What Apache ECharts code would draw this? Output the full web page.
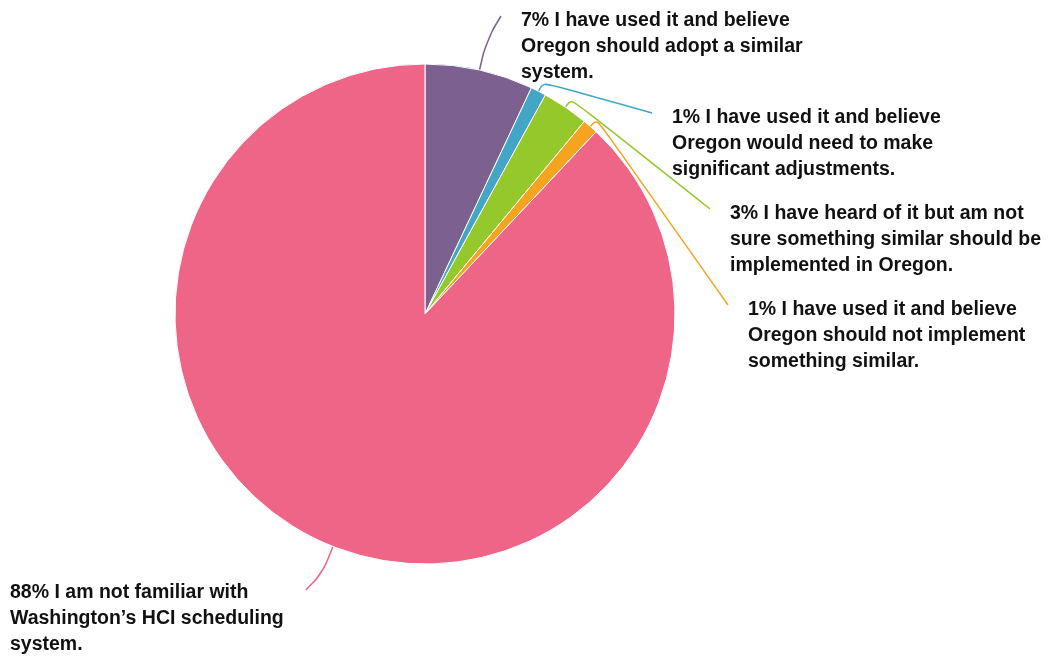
<!DOCTYPE html>
<html>
<head>
<meta charset="utf-8">
<script src="https://cdn.jsdelivr.net/npm/echarts@6/dist/echarts.min.js"></script>
<style>
html,body{margin:0;padding:0;background:#fff;}
#chart{width:1048px;height:656px;}
</style>
</head>
<body>
<div id="chart"></div>
<script>
// Data
const categories = [
  "I have used it and believe\nOregon should adopt a similar\nsystem.",
  "I have used it and believe\nOregon would need to make\nsignificant adjustments.",
  "I have heard of it but am not\nsure something similar should be\nimplemented in Oregon.",
  "I have used it and believe\nOregon should not implement\nsomething similar.",
  "I am not familiar with\nWashington\u2019s HCI scheduling\nsystem."
];
const values = [7, 1, 3, 1, 88];
const colors = ["#7B6090", "#44A6C6", "#95C82A", "#F4A41F", "#EF6587"];

// Label placement (style)
const labelPos = [[521, 8], [672, 105], [730, 201], [748, 297], [10, 580]];
const lineLen = [30, 10, 10, 10, 30];

const chart = echarts.init(document.getElementById('chart'), null, {renderer: 'canvas'});
chart.setOption({
  animation: false,
  backgroundColor: '#ffffff',
  series: [{
    type: 'pie',
    center: [425, 314],
    radius: [0, 250],
    startAngle: 90,
    clockwise: true,
    avoidLabelOverlap: false,
    itemStyle: {borderColor: '#ffffff', borderWidth: 1},
    label: {
      show: true,
      position: 'outside',
      formatter: p => p.value + '% ' + p.name,
      fontFamily: 'Liberation Sans, Arial, sans-serif',
      fontWeight: 'bold',
      fontSize: 19.5,
      lineHeight: 26,
      color: '#111111',
      align: 'left'
    },
    labelLine: {show: true, length: 10, length2: 20, smooth: 0.4, lineStyle: {width: 1.5}},
    labelLayout: function (params) {
      const i = params.dataIndex;
      const p = labelPos[i];
      const right = p[0] > 425;
      const w = params.labelRect.width;
      const end = right ? [p[0] - 20, p[1] + 8] : [p[0] + w + 22, p[1] + 10];
      const out = {x: p[0], y: p[1], align: 'left', verticalAlign: 'top', moveOverlap: null};
      const pts = params.labelLinePoints;
      if (pts && pts.length >= 2) {
        out.labelLinePoints = [[pts[0][0], pts[0][1]], [pts[1][0], pts[1][1]], end];
      }
      return out;
    },
    data: categories.map((c, i) => ({
      name: c,
      value: values[i],
      itemStyle: {color: colors[i]},
      labelLine: {length: lineLen[i], lineStyle: {color: colors[i]}}
    }))
  }]
});
</script>
</body>
</html>
